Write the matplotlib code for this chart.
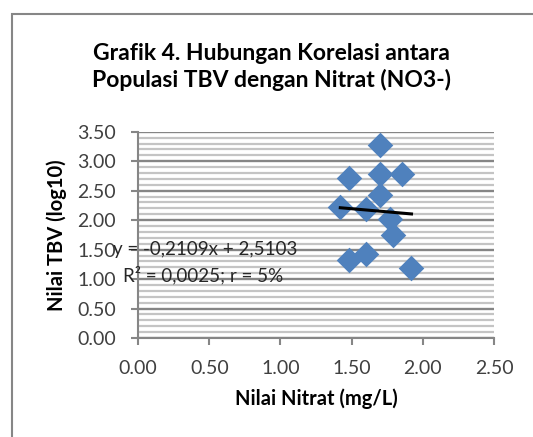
import matplotlib
matplotlib.use("Agg")
import matplotlib.pyplot as plt
import numpy as np
from matplotlib.ticker import MultipleLocator, FormatStrFormatter

# data
nitrat = [1.42, 1.48, 1.60, 1.70, 1.70, 1.85, 1.70, 1.77, 1.79, 1.48, 1.60, 1.92]
tbv = [2.22, 2.71, 2.19, 3.27, 2.79, 2.78, 2.43, 2.02, 1.75, 1.32, 1.43, 1.19]

slope = -0.2109
intercept = 2.5103
eq_text = "y = -0,2109x + 2,5103"
r2_text = "R² = 0,0025; r = 5%"

title = "Grafik 4. Hubungan Korelasi antara\nPopulasi TBV dengan Nitrat (NO3-)"
xlabel = "Nilai Nitrat (mg/L)"
ylabel = "Nilai TBV (log10)"

plt.rcParams['font.family'] = ['Lato', 'DejaVu Sans']

fig = plt.figure(figsize=(5.33, 4.37), dpi=100)
ax = fig.add_axes([0.259, 0.2265, 0.668, 0.472])

# outer chart frame (runs off the right and bottom edges)
fig.patches.append(plt.Rectangle((12 / 533, -0.1), 1.2, 1 - 14 / 437 + 0.1,
                                 transform=fig.transFigure, fill=False,
                                 edgecolor='#868686', linewidth=1.5))

ax.set_xlim(0, 2.5)
ax.set_ylim(0, 3.5)
ax.xaxis.set_major_locator(MultipleLocator(0.5))
ax.yaxis.set_major_locator(MultipleLocator(0.5))
ax.yaxis.set_minor_locator(MultipleLocator(0.1))
ax.xaxis.set_major_formatter(FormatStrFormatter('%.2f'))
ax.yaxis.set_major_formatter(FormatStrFormatter('%.2f'))

ax.grid(True, axis='y', which='major', color='#858585', linewidth=1.7)
ax.grid(True, axis='y', which='minor', color='#c4c4c4', linewidth=1.6)
ax.set_axisbelow(True)
ax.tick_params(axis='y', which='minor', length=0)
ax.tick_params(which='major', length=5, width=1.5, color='#868686',
               labelsize=14, labelcolor='#404040')
ax.tick_params(axis='y', pad=11)
ax.tick_params(axis='x', pad=11)
for s in ['top', 'right']:
    ax.spines[s].set_visible(False)
for s in ['left', 'bottom']:
    ax.spines[s].set_color('#868686')
    ax.spines[s].set_linewidth(1.5)

ax.scatter(nitrat, tbv, marker='D', s=170, color='#4F81BD', zorder=3,
           linewidths=0)

xs = np.array([min(nitrat), max(nitrat)])
ax.plot(xs, slope * xs + intercept, color='black', linewidth=2.2, zorder=4)

ax.text(-0.178, 1.51, eq_text, fontsize=13.5, color='#262626', va='center',
        ha='left', clip_on=False, zorder=5)
ax.text(-0.107, 1.07, r2_text, fontsize=13.5, color='#262626', va='center',
        ha='left', clip_on=False, zorder=5)

ax.set_xlabel(xlabel, fontsize=14.5, fontweight='bold', labelpad=8)
ax.set_ylabel(ylabel, fontsize=14.5, fontweight='bold', labelpad=7)
fig.text(0.51, 0.847, title, fontsize=16.5, fontweight='bold', ha='center',
         va='center', linespacing=1.3)

fig.savefig("out.png", dpi=100)
